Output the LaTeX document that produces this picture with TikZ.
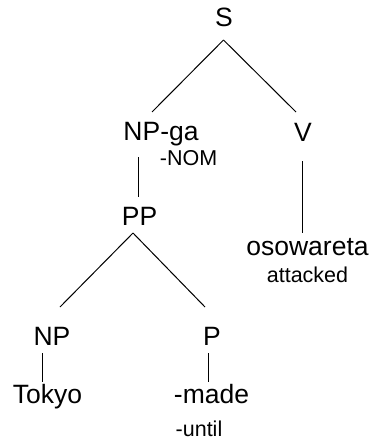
\documentclass[tikz,border=0pt]{standalone}
\usepackage{fontspec}
\setmainfont{Liberation Sans}
\begin{document}
\begin{tikzpicture}[x=1pt,y=-1pt,
  big/.style={font=\fontsize{26.5}{29}\selectfont,anchor=base,inner sep=0pt},
  small/.style={font=\fontsize{21.5}{24}\selectfont,anchor=base,inner sep=0pt},
  branch/.style={line width=1pt,black}]
\useasboundingbox (0,0) rectangle (371,441);
% nodes
\node[big] (S) at (224,27) {S};
\node[big] (NPga) at (161,140) {NP-ga};
\node[small] (NOM) at (188.5,165) {-NOM};
\node[big] (V) at (303,141) {V};
\node[big] (PP) at (139.5,225) {PP};
\node[big] (oso) at (307.5,255) {osowareta};
\node[small] (att) at (307.5,282) {attacked};
\node[big] (NP) at (52,345) {NP};
\node[big] (P) at (212,345) {P};
\node[big] (Tokyo) at (47.5,403) {Tokyo};
\node[big] (made) at (211.5,403) {-made};
\node[small] (until) at (199,436) {-until};
% connector ends
\coordinate (S-b) at (223.5,40);
\coordinate (NPga-t) at (152,112);
\coordinate (V-t) at (296,112);
\coordinate (NPga-b) at (138,157);
\coordinate (PP-t) at (138,197);
\coordinate (V-b) at (302,161);
\coordinate (oso-t) at (302,233);
\coordinate (PP-b) at (133,233);
\coordinate (NP-t) at (60,307);
\coordinate (P-t) at (205,307);
\coordinate (NP-b) at (42,353);
\coordinate (Tokyo-t) at (42,382);
\coordinate (P-b) at (208,353);
\coordinate (made-t) at (208,382);
% connectors
\draw[branch] (S-b) -- (NPga-t);
\draw[branch] (S-b) -- (V-t);
\draw[branch] (NPga-b) -- (PP-t);
\draw[branch] (V-b) -- (oso-t);
\draw[branch] (PP-b) -- (NP-t);
\draw[branch] (PP-b) -- (P-t);
\draw[branch] (NP-b) -- (Tokyo-t);
\draw[branch] (P-b) -- (made-t);
\end{tikzpicture}
\end{document}
